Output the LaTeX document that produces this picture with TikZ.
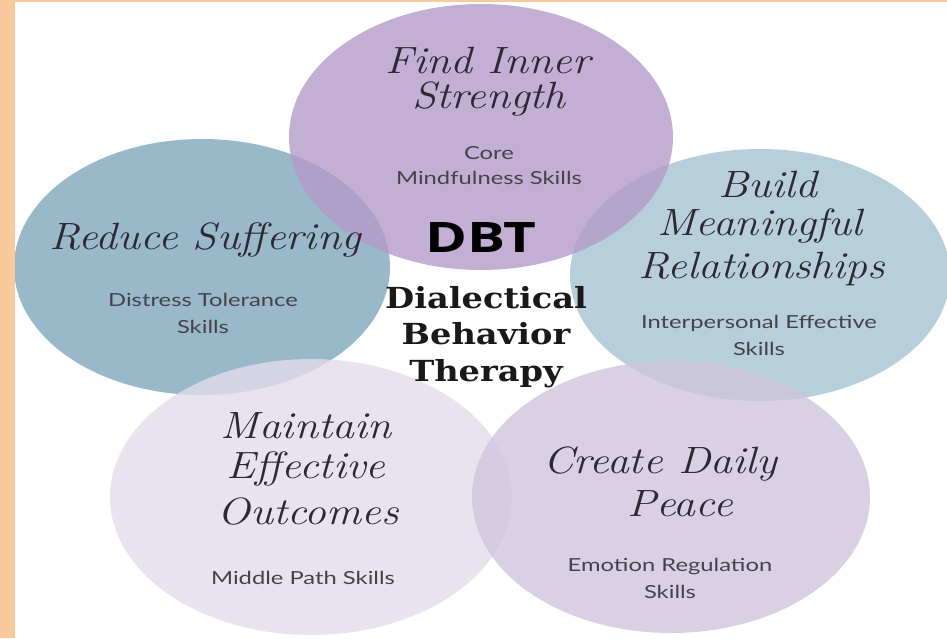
\documentclass[tikz,border=0pt]{standalone}
\usepackage{fontspec}
\setmainfont{Lato}[FakeStretch=1.32]
\newfontfamily\dbtfont{Open Sans}[FakeStretch=1.35]
\newfontfamily\slabfont{DejaVu Serif}[FakeStretch=1.16]
\newfontfamily\scrfont{Latin Modern Roman}[FakeStretch=1.15]
\definecolor{orangeb}{RGB}{249,203,156}
\definecolor{ctop}{RGB}{180,155,200}
\definecolor{cleft}{RGB}{128,167,188}
\definecolor{cright}{RGB}{164,196,210}
\definecolor{cbl}{RGB}{228,220,236}
\definecolor{cbr}{RGB}{208,198,221}
\definecolor{txt}{RGB}{45,40,50}
\definecolor{txtl}{RGB}{70,66,74}
\tikzset{
  blob/.style={fill opacity=0.8, draw=none},
  scr/.style={text=txt, font=\scrfont\itshape\fontsize{38}{42}\selectfont, align=center, inner sep=0pt},
  skill/.style={text=txtl, font=\fontsize{18}{27}\selectfont, align=center, inner sep=0pt},
}
\begin{document}
\begin{tikzpicture}[x=1pt,y=-1pt]
\useasboundingbox (0,0) rectangle (947,638);
\fill[white] (0,0) rectangle (947,638);
\begin{scope}
\clip (15,2) rectangle (947,638);
\fill[blob, cleft] (202,267) ellipse [x radius=188, y radius=128];
\fill[blob, cright] (760,275) ellipse [x radius=190, y radius=126];
\fill[blob, ctop] (481,137) ellipse [x radius=192, y radius=133];
\fill[blob, cbl] (311,497) ellipse [x radius=201, y radius=138];
\fill[blob, cbr] (671,497) ellipse [x radius=199, y radius=136];
\end{scope}
\fill[orangeb] (0,0) rectangle (15,638);
\fill[orangeb] (0,0) rectangle (947,2);

\node[scr] (t1) at (488,60) {Find Inner};
\node[scr] (t2) at (489,99) {Strength};
\node[skill] (s1) at (489,153) {Core};
\node[skill] (s2) at (489,178) {Mindfulness Skills};

\node[scr] (l1) at (205,240) {Reduce Suffering};
\node[skill] (ls) at (203,313) {Distress Tolerance\\Skills};

\node[scr] (r1) at (768,184) {Build};
\node[scr] (r2) at (760,226) {Meaningful};
\node[scr] (r3) at (762,269) {Relationships};
\node[skill] (rs) at (759,335) {Interpersonal Effective\\Skills};

\node[font=\dbtfont\bfseries\fontsize{42}{50}\selectfont, text=black, inner sep=0pt] (dbt) at (481,238) {DBT};
\node[font=\slabfont\bfseries\fontsize{29}{36.5}\selectfont, text=black!90, align=center, inner sep=0pt] (dia) at (486,337) {Dialectical\\Behavior\\Therapy};

\node[scr] (m1) at (306,426) {Maintain};
\node[scr] (m2) at (306,469) {Effective};
\node[scr] (m3) at (308,512) {Outcomes};
\node[skill] (ms) at (303,578) {Middle Path Skills};

\node[scr] (c1) at (660,464) {Create Daily};
\node[scr] (c2) at (680,504) {Peace};
\node[skill] (cs) at (670,578) {Emotion Regulation\\Skills};
\end{tikzpicture}
\end{document}
